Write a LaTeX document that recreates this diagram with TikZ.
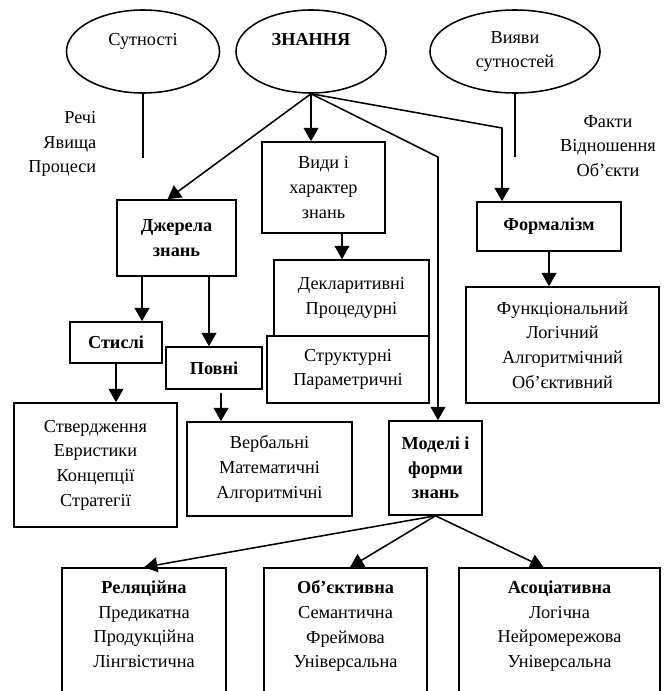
\documentclass[tikz,border=0pt]{standalone}
\usepackage{fontspec}
\setmainfont{Liberation Serif}
\usetikzlibrary{arrows.meta,shapes.geometric,calc}

\begin{document}
\begin{tikzpicture}[x=0.025cm,y=-0.025cm,line width=1.1pt,
font=\fontsize{13}{17.5}\selectfont,
box/.style={draw,rectangle,align=center,inner sep=0pt},
boldbox/.style={box,font=\fontsize{13}{17.5}\selectfont\bfseries},
oval/.style={draw,ellipse,align=center,inner sep=0pt,minimum height=2.075cm},
arr/.style={-{Triangle[width=10.5pt,length=9.5pt]}}]
\useasboundingbox (0,0) rectangle (667,691);
\node[oval,minimum width=3.825cm] (sut) at (143,51.5) {Сутності\\ \mbox{}};
\node[oval,minimum width=3.75cm] (zn) at (311,51.5) {\textbf{ЗНАННЯ}\\ \mbox{}};
\node[oval,minimum width=4.25cm] (vy) at (515,51.5) {Вияви\\сутностей};
\coordinate (sutend) at (143,158);
\coordinate (vyend) at (515,157);
\draw (sut.south) -- (sutend);
\draw (vy.south) -- (vyend);
\node[align=right,anchor=east,inner sep=0pt] (rechi) at (97,144) {Речі\\Явища\\Процеси};
\node[align=center,inner sep=0pt] (fakty) at (608,146) {Факти\\Відношення\\Об’єкти};
\node[box,minimum width=3.075cm,minimum height=2.275cm] (vydy) at (323.5,187.5) {Види і\\характер\\знань};
\node[box,minimum width=3.875cm,minimum height=1.9cm] (dekl) at (351.5,298) {Декларитивні\\Процедурні};
\node[box,minimum width=4.05cm,minimum height=1.675cm] (strukt) at (348,369.5) {Структурні\\Параметричні};
\node[boldbox,minimum width=2.975cm,minimum height=1.9cm] (dzh) at (176.5,238) {Джерела\\знань};
\node[boldbox,minimum width=2.3cm,minimum height=1.025cm] (styl) at (116,342.5) {Стислі};
\node[boldbox,minimum width=2.4cm,minimum height=1.05cm] (povni) at (214,368) {Повні};
\node[box,minimum width=4.075cm,minimum height=3.1cm] (stverd) at (95.5,465) {Ствердження\\Евристики\\Концепції\\Стратегії};
\node[box,minimum width=4.125cm,minimum height=2.35cm] (verb) at (269.5,469) {Вербальні\\Математичні\\Алгоритмічні};
\node[boldbox,minimum width=2.325cm,minimum height=2.35cm] (model) at (435.5,468) {Моделі і\\форми\\знань};
\node[boldbox,minimum width=3.6cm,minimum height=1.225cm] (form) at (549,226.5) {Формалізм};
\node[box,minimum width=4.825cm,minimum height=2.9cm] (funk) at (562.5,345) {Функціональний\\Логічний\\Алгоритмічний\\Об’єктивний};
\node[box,minimum width=4.1cm,minimum height=3.425cm] (rel) at (144,636.5) {\textbf{Реляційна}\\Предикатна\\Продукційна\\Лінгвістична\\ \mbox{}};
\node[box,minimum width=4.075cm,minimum height=3.425cm] (obj) at (345.5,636.5) {\textbf{Об’єктивна}\\Семантична\\Фреймова\\Універсальна\\ \mbox{}};
\node[box,minimum width=5.025cm,minimum height=3.425cm] (asoc) at (559.5,636.5) {\textbf{Асоціативна}\\Логічна\\Нейромережова\\Універсальна\\ \mbox{}};
\coordinate (bendF) at (502,128);
\coordinate (bendM) at (438,157);
\draw[arr] (zn.south) -- ($(dzh.north)+(-9,0)$);
\draw[arr] (zn.south) -- (zn.south |- vydy.north);
\draw[arr] (zn.south) -- (bendF) -- (bendF |- form.north);
\draw[arr] (zn.south) -- (bendM) -- (bendM |- model.north);
\coordinate (vd) at ($(vydy.south)+(18.5,0)$);
\draw[arr] (vd) -- (vd |- dekl.north);
\coordinate (dzl) at ($(dzh.south)+(-34.5,0)$);
\coordinate (dzr) at ($(dzh.south)+(32.5,0)$);
\draw[arr] (dzl) -- (dzl |- styl.north);
\draw[arr] (dzr) -- (dzr |- povni.north);
\draw[arr] (styl.south) -- (styl.south |- stverd.north);
\coordinate (pv) at ($(povni.south)+(7,3)$);
\draw[arr] (pv) -- (pv |- verb.north);
\draw[arr] (form.south) -- (form.south |- funk.north);
\draw[arr] (model.south) -- (rel.north);
\draw[arr] (model.south) -- ($(obj.north)+(4.5,0)$);
\draw[arr] (model.south) -- ($(asoc.north)+(-16,0)$);
\end{tikzpicture}
\end{document}
